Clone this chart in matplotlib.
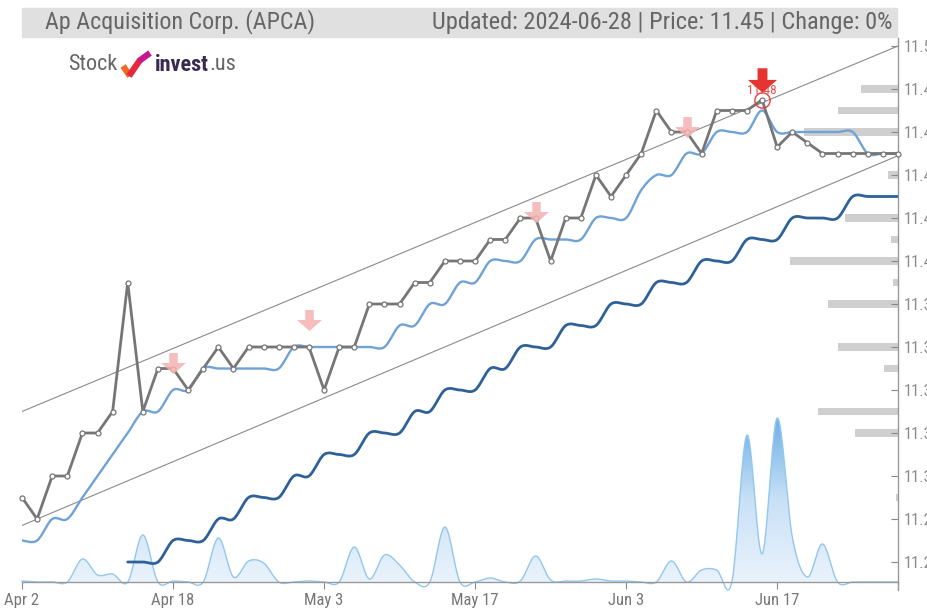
import numpy as np
import matplotlib
matplotlib.use('Agg')
import matplotlib.pyplot as plt
from matplotlib.path import Path
import matplotlib.patches as mpatches
from matplotlib import font_manager
from matplotlib.colors import LinearSegmentedColormap

# ---------------- data ----------------
title_left = "Ap Acquisition Corp. (APCA)"
title_right = "Updated: 2024-06-28 | Price: 11.45 | Change: 0%"

tick_idx = [0, 10, 20, 30, 40, 50]
tick_labels = ["Apr 2", "Apr 18", "May 3", "May 17", "Jun 3", "Jun 17"]

price = [11.29, 11.28, 11.30, 11.30, 11.32, 11.32, 11.33, 11.39, 11.33, 11.35,
         11.35, 11.34, 11.35, 11.36, 11.35, 11.36, 11.36, 11.36, 11.36, 11.36,
         11.34, 11.36, 11.36, 11.38, 11.38, 11.38, 11.39, 11.39, 11.40, 11.40,
         11.40, 11.41, 11.41, 11.42, 11.42, 11.40, 11.42, 11.42, 11.44, 11.43,
         11.44, 11.45, 11.47, 11.46, 11.46, 11.45, 11.47, 11.47, 11.47, 11.475,
         11.453, 11.46, 11.455, 11.45, 11.45, 11.45, 11.45, 11.45, 11.45]

ma_short = [11.27, 11.27, 11.28, 11.28, 11.29, 11.30, 11.31, 11.32, 11.33, 11.33,
            11.34, 11.34, 11.35, 11.35, 11.35, 11.35, 11.35, 11.35, 11.36, 11.36,
            11.36, 11.36, 11.36, 11.36, 11.36, 11.37, 11.37, 11.38, 11.38, 11.39,
            11.39, 11.40, 11.40, 11.40, 11.41, 11.41, 11.41, 11.41, 11.42, 11.42,
            11.42, 11.433, 11.44, 11.44, 11.45, 11.45, 11.46, 11.46, 11.46, 11.47,
            11.46, 11.46, 11.46, 11.46, 11.46, 11.46, 11.45, 11.45, 11.45]

ma_long_start = 7
ma_long = [11.26, 11.26, 11.26, 11.27, 11.27, 11.27, 11.28, 11.28, 11.29, 11.29,
           11.29, 11.30, 11.30, 11.31, 11.31, 11.31, 11.32, 11.32, 11.32, 11.33,
           11.33, 11.34, 11.34, 11.34, 11.35, 11.35, 11.36, 11.36, 11.36, 11.37,
           11.37, 11.37, 11.38, 11.38, 11.38, 11.39, 11.39, 11.39, 11.40, 11.40,
           11.40, 11.41, 11.41, 11.41, 11.42, 11.42, 11.42, 11.42, 11.43, 11.43,
           11.43, 11.43]

volume = [1, 0, 0, 0, 23, 7, 8, 0, 47, 0,
          1, 0, 0, 44, 5, 21, 19, 0, 0, 1,
          0, 0, 35, 3, 27, 17, 0, 0, 55, 0,
          0, 4, 0, 1, 26, 2, 1, 1, 3, 1,
          1, 0, 0, 21, 0, 12, 12, 0, 147, 28,
          164, 45, 5, 38, 0, 0, 0, 0, 0]

sell_idx = [10, 19, 34, 44]
sell_val = [11.3526, 11.3726, 11.4228, 11.4623]
peak_idx = 49
peak_val = 11.475
peak_arrow_val = 11.4842
peak_label = "11.48"

channel_upper = [11.330, 11.500]
channel_lower = [11.277, 11.449]

profile_levels = [11.48, 11.47, 11.46, 11.44, 11.42, 11.41, 11.40, 11.39,
                  11.38, 11.36, 11.35, 11.33, 11.32, 11.29]
profile_vol = [37, 60, 94, 10, 53, 7, 108, 5, 70, 60, 14, 80, 43, 2]

yticks = [11.50, 11.48, 11.46, 11.44, 11.42, 11.40, 11.38, 11.36, 11.34,
          11.32, 11.30, 11.28, 11.26]

# ---------------- helpers ----------------
def catmull(x, y, n=16):
    x = np.asarray(x, float); y = np.asarray(y, float)
    px = np.concatenate([[x[0]], x, [x[-1]]])
    py = np.concatenate([[y[0]], y, [y[-1]]])
    t = np.linspace(0, 1, n, endpoint=False)
    ox, oy = [], []
    for i in range(1, len(px) - 2):
        for arr, out in ((px, ox), (py, oy)):
            p0, p1, p2, p3 = arr[i - 1], arr[i], arr[i + 1], arr[i + 2]
            out.extend(0.5 * (2 * p1 + (-p0 + p2) * t + (2 * p0 - 5 * p1 + 4 * p2 - p3) * t ** 2
                              + (-p0 + 3 * p1 - 3 * p2 + p3) * t ** 3))
    ox.append(x[-1]); oy.append(y[-1])
    return np.array(ox), np.array(oy)

def pick_font(cands):
    names = {f.name for f in font_manager.fontManager.ttflist}
    for c in cands:
        if c in names:
            return c
    return 'DejaVu Sans'

FONT = pick_font(['Liberation Sans Narrow', 'Roboto Condensed', 'Roboto', 'Liberation Sans'])
plt.rcParams['font.family'] = [FONT, 'DejaVu Sans']

# ---------------- figure ----------------
W, H = 928, 608
fig = plt.figure(figsize=(W / 100, H / 100), dpi=100)
ax_l, ax_r, ax_b, ax_t = 22, 898, 582, 38
ax = fig.add_axes([ax_l / W, (H - ax_b) / H, (ax_r - ax_l) / W, (ax_b - ax_t) / H])
ymin = 11.50 - (ax_b - 46) / 2150.0
ymax = 11.50 + (46 - ax_t) / 2150.0
n = len(price)
xs = np.arange(n)
ax.set_xlim(0, n - 1)
ax.set_ylim(ymin, ymax)

# volume (secondary axis)
axv = ax.twinx()
axv.set_ylim(0, max(volume) * (ax_b - ax_t) / 164.0)
axv.set_xlim(0, n - 1)
axv.axis('off')
vx, vy = catmull(xs, volume, 20)
vtop = max(volume) * 1.0
grad = np.linspace(0, 1, 256).reshape(-1, 1)
cm = LinearSegmentedColormap.from_list('v', ['#eaf3fc', '#c9e1f6', '#6fb0e6'])
im = axv.imshow(grad, extent=[0, n - 1, 0, vtop], origin='lower', aspect='auto',
                cmap=cm, zorder=1)
clip = mpatches.Polygon(np.column_stack([np.concatenate([vx, [vx[-1], vx[0]]]),
                                         np.concatenate([vy, [0, 0]])]),
                        closed=True, transform=axv.transData)
im.set_clip_path(clip)
axv.plot(vx, vy, color='#93c7ee', lw=1.0, zorder=2, clip_on=False)

ax.set_zorder(axv.get_zorder() + 1)
ax.patch.set_visible(False)

# volume profile bars
scale = 1 / 15.12
for lv, pv in zip(profile_levels, profile_vol):
    ax.barh(lv, pv * scale, left=(n - 1) - pv * scale, height=0.0037,
            color='#cfcfcf', lw=0, zorder=1)

# channel
ax.plot([0, n - 1], channel_upper, color='#8a8a8a', lw=0.8, zorder=2)
ax.plot([0, n - 1], channel_lower, color='#8a8a8a', lw=0.8, zorder=2)

# moving averages
lx, ly = catmull(xs[ma_long_start:], ma_long, 16)
ax.plot(lx, ly, color='#2f6199', lw=2.0, zorder=3, solid_capstyle='round')
sx, sy = catmull(xs, ma_short, 16)
ax.plot(sx, sy, color='#6fa2d6', lw=1.7, zorder=4, solid_capstyle='round')

# price
ax.plot(xs, price, color='#767676', lw=2.0, zorder=5, marker='o', ms=3.6,
        mfc='white', mec='#767676', mew=0.9, clip_on=False)

# arrows (width 1, height 0.8, centred)
arrow = Path([(-0.17, 0.42), (0.17, 0.42), (0.17, 0.02), (0.5, 0.02), (0.0, -0.42),
              (-0.5, 0.02), (-0.17, 0.02), (-0.17, 0.42)],
             [Path.MOVETO] + [Path.LINETO] * 6 + [Path.CLOSEPOLY])
ax.plot(sell_idx, sell_val, ls='none', marker=arrow, ms=18, color='#f5b2b2',
        mec='none', zorder=6, alpha=0.85)
ax.text(peak_idx, peak_val + 0.0042, peak_label, color='#e8504c', fontsize=9.5,
        ha='center', va='center', zorder=6)
ax.plot([peak_idx], [peak_arrow_val], ls='none', marker=arrow, ms=21, color='#e53530',
        mec='none', zorder=7)
ax.plot([peak_idx], [peak_val], ls='none', marker='o', ms=11, mfc='none',
        mec='#e8403c', mew=1.0, zorder=7)

# axes styling
for s in ['left', 'top']:
    ax.spines[s].set_visible(False)
for s in ['right', 'bottom']:
    ax.spines[s].set_color('#999999')
    ax.spines[s].set_linewidth(1.0)
ax.spines['right'].set_bounds(ymin - 8 / 2150.0, ymax)
ax.yaxis.tick_right()
ax.set_yticks(yticks)
ax.set_yticklabels([f"{v:.2f}" for v in yticks])
ax.tick_params(axis='y', direction='in', length=5, color='#888888', labelcolor='#8c8c8c',
               labelsize=12, pad=4)
ax.set_xticks(tick_idx + [n - 1])
ax.set_xticklabels(tick_labels + [""])
ax.tick_params(axis='x', direction='out', length=5, color='#888888', labelcolor='#777777',
               labelsize=12, pad=3)

# header
fig.patches.append(mpatches.Rectangle((22 / W, (H - 37) / H), (897 - 22) / W, 29 / H,
                                      transform=fig.transFigure, color='#e0e0e0', zorder=0))
fig.text(45 / W, (H - 22) / H, title_left, fontsize=17.3, color='#666666', va='center', ha='left')
fig.text(893 / W, (H - 22) / H, title_right, fontsize=17.6, color='#666666', va='center', ha='right')

# logo
renderer = fig.canvas.get_renderer()
t1 = fig.text(68 / W, (H - 65) / H, "Stock", fontsize=16, color='#666666', va='center', ha='left')
def px(x, y):
    return (x / W, (H - y) / H)
fig.add_artist(plt.Line2D([px(123, 66)[0], px(130, 76)[0]], [px(123, 66)[1], px(130, 76)[1]],
                          transform=fig.transFigure, color='#f26a21', lw=4.5,
                          solid_capstyle='butt'))
fig.add_artist(plt.Line2D([px(129, 76)[0], px(140, 60)[0]], [px(129, 76)[1], px(140, 60)[1]],
                          transform=fig.transFigure, color='#e8263c', lw=4.5,
                          solid_capstyle='butt'))
fig.add_artist(plt.Line2D([px(139, 61)[0], px(150, 53)[0]], [px(139, 61)[1], px(150, 53)[1]],
                          transform=fig.transFigure, color='#c4198f', lw=4.5,
                          solid_capstyle='butt'))
t2 = fig.text(155 / W, (H - 65) / H, "invest", fontsize=16, color='#3b2a4f', va='center',
              ha='left', fontweight='bold')
bb = t2.get_window_extent(renderer)
fig.text(bb.x1 / W, (H - 65) / H, ".us", fontsize=16, color='#666666', va='center', ha='left')

fig.savefig('out.png', dpi=100)
